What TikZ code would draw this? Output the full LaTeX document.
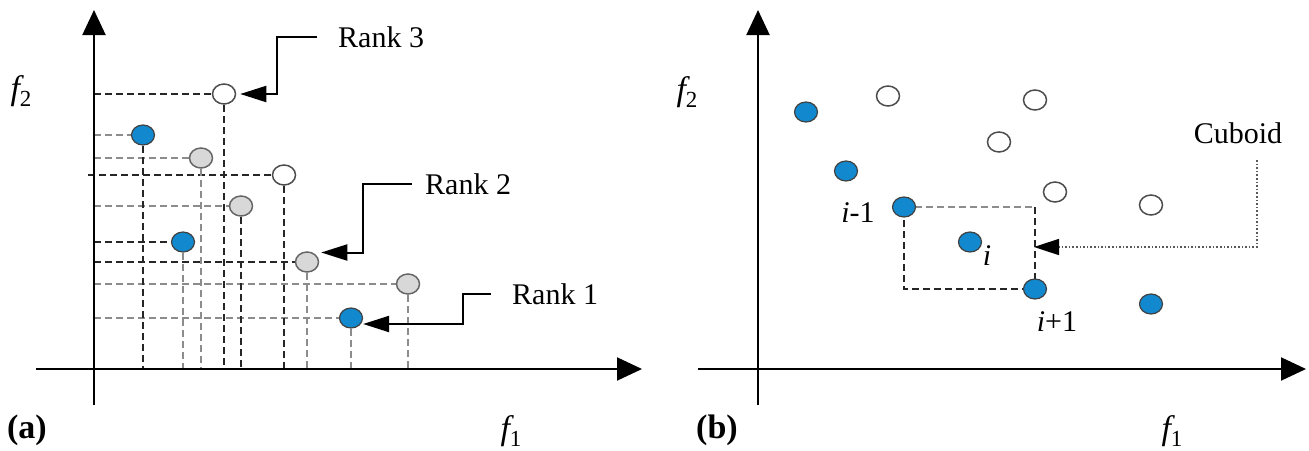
\documentclass[tikz,border=0pt]{standalone}
\usepackage{fontspec}
\setmainfont{Liberation Serif}
\usetikzlibrary{arrows.meta,shapes.geometric}
\definecolor{dotblue}{RGB}{18,136,206}
\definecolor{dotgray}{RGB}{216,216,216}
\begin{document}
\begin{tikzpicture}[x=1pt,y=-1pt,
  axis/.style={line width=2pt,-{Triangle[length=25pt,width=23pt]}},
  dk/.style={line width=1.6pt,black!85,dash pattern=on 7pt off 4pt},
  dg/.style={line width=1.6pt,black!45,dash pattern=on 7pt off 4pt},
  rk/.style={line width=2pt,-{Triangle[length=26pt,width=16pt]}},
  cub/.style={line width=1.6pt,black!65,dotted,-{Triangle[length=25pt,width=16pt,black]}},
  dotbase/.style={ellipse,minimum width=23pt,minimum height=20pt,inner sep=0pt},
  bdot/.style={dotbase,fill=dotblue,draw=black!75,line width=1.2pt},
  gdot/.style={dotbase,fill=dotgray,draw=black!60,line width=1.5pt},
  odot/.style={dotbase,fill=white,draw=black!70,line width=1.5pt},
  lbl/.style={font=\fontsize{30}{36}\selectfont,inner sep=0pt},
  tag/.style={font=\fontsize{34}{40}\selectfont\bfseries,inner sep=0pt},
  flab/.style={inner sep=0pt}
]
\useasboundingbox (0,0) rectangle (1309,450);

% ---------------- panel (a) ----------------
\coordinate (ya0) at (94,405);
\coordinate (ya1) at (94,10);
\coordinate (xa0) at (36,369);
\coordinate (xa1) at (642,369);
\coordinate (yl) at (88,0);

\coordinate (c1) at (224,94);
\coordinate (c2) at (143,135);
\coordinate (c3) at (201,158);
\coordinate (c4) at (284,175);
\coordinate (c5) at (241,206);
\coordinate (c6) at (183,242);
\coordinate (c7) at (307,262);
\coordinate (c8) at (408,284);
\coordinate (c9) at (351,318);

% horizontal projections
\draw[dk] (ya1 |- c1) -- (c1);
\draw[dg] (ya1 |- c2) -- (c2);
\draw[dg] (ya1 |- c3) -- (c3);
\draw[dk] (yl |- c4) -- (c4);
\draw[dg] (ya1 |- c5) -- (c5);
\draw[dk] (ya1 |- c6) -- (c6);
\draw[dk] (ya1 |- c7) -- (c7);
\draw[dg] (ya1 |- c8) -- (c8);
\draw[dg] (ya1 |- c9) -- (c9);
% vertical projections
\draw[dk] (c1) -- (c1 |- xa0);
\draw[dk] (c2) -- (c2 |- xa0);
\draw[dg] (c3) -- (c3 |- xa0);
\draw[dk] (c4) -- (c4 |- xa0);
\draw[dk] (c5) -- (c5 |- xa0);
\draw[dg] (c6) -- (c6 |- xa0);
\draw[dg] (c7) -- (c7 |- xa0);
\draw[dg] (c8) -- (c8 |- xa0);
\draw[dg] (c9) -- (c9 |- xa0);

\draw[axis] (ya0) -- (ya1);
\draw[axis] (xa0) -- (xa1);

\node[odot] (p1) at (c1) {};
\node[bdot] (p2) at (c2) {};
\node[gdot] (p3) at (c3) {};
\node[odot] (p4) at (c4) {};
\node[gdot] (p5) at (c5) {};
\node[bdot] (p6) at (c6) {};
\node[gdot] (p7) at (c7) {};
\node[gdot] (p8) at (c8) {};
\node[bdot] (p9) at (c9) {};

\node[lbl,anchor=west] (r3) at (338,37) {Rank 3};
\node[lbl,anchor=west] (r2) at (425,184) {Rank 2};
\node[lbl,anchor=west] (r1) at (512,294) {Rank 1};

\draw[rk] ([xshift=-21pt]r3.west) -- ++(-40,0) |- ([xshift=4pt]p1.east);
\draw[rk] ([xshift=-13pt]r2.west) -- ++(-49,0) |- ([xshift=2pt,yshift=9.5pt]p7.east);
\draw[rk] ([xshift=-21pt]r1.west) -- ++(-28,0) |- ([yshift=-6pt]p9.east);

\node[flab] (f2a) at (21,91) {{\fontsize{34}{38}\selectfont\itshape f}\raisebox{-7pt}{\fontsize{23}{25}\selectfont 2}};
\node[flab] (f1a) at (511,431) {{\fontsize{34}{38}\selectfont\itshape f}\raisebox{-7pt}{\fontsize{23}{25}\selectfont 1}};
\node[tag] (ta) at (27,430) {(a)};

% ---------------- panel (b) ----------------
\coordinate (yb0) at (758,405);
\coordinate (yb1) at (758,10);
\coordinate (xb0) at (698,369);
\coordinate (xb1) at (1306,369);

\draw[axis] (yb0) -- (yb1);
\draw[axis] (xb0) -- (xb1);

\coordinate (d1) at (904,207);
\coordinate (d3) at (1035,289);

\draw[dg] (d1) -- (d1 -| d3);
\draw[dk] (d1 -| d3) -- (d3) -- (d3 -| d1) -- (d1);

\node[bdot] (q1) at (806,112) {};
\node[odot] (q2) at (888,96) {};
\node[odot] (q3) at (1035,100) {};
\node[odot] (q4) at (999,142) {};
\node[bdot] (q5) at (846,171) {};
\node[odot] (q6) at (1055,192) {};
\node[odot] (q7) at (1151,205) {};
\node[bdot] (qim) at (d1) {};
\node[bdot] (qi) at (970,242) {};
\node[bdot] (qip) at (d3) {};
\node[bdot] (q8) at (1151,304) {};

\node[lbl] (lim) at (858,213) {{\itshape i}-1};
\node[lbl] (li) at (987,256) {{\itshape i}};
\node[lbl] (lip) at (1057,322) {{\itshape i}+1};

\node[lbl] (cb) at (1238,133) {Cuboid};
\coordinate (cs) at (1257,160);
\coordinate (ct) at (1034,247);
\draw[cub] (cs) |- (ct);

\node[flab] (f2b) at (687,92) {{\fontsize{34}{38}\selectfont\itshape f}\raisebox{-7pt}{\fontsize{23}{25}\selectfont 2}};
\node[flab] (f1b) at (1172,431) {{\fontsize{34}{38}\selectfont\itshape f}\raisebox{-7pt}{\fontsize{23}{25}\selectfont 1}};
\node[tag] (tb) at (717,430) {(b)};
\end{tikzpicture}
\end{document}
